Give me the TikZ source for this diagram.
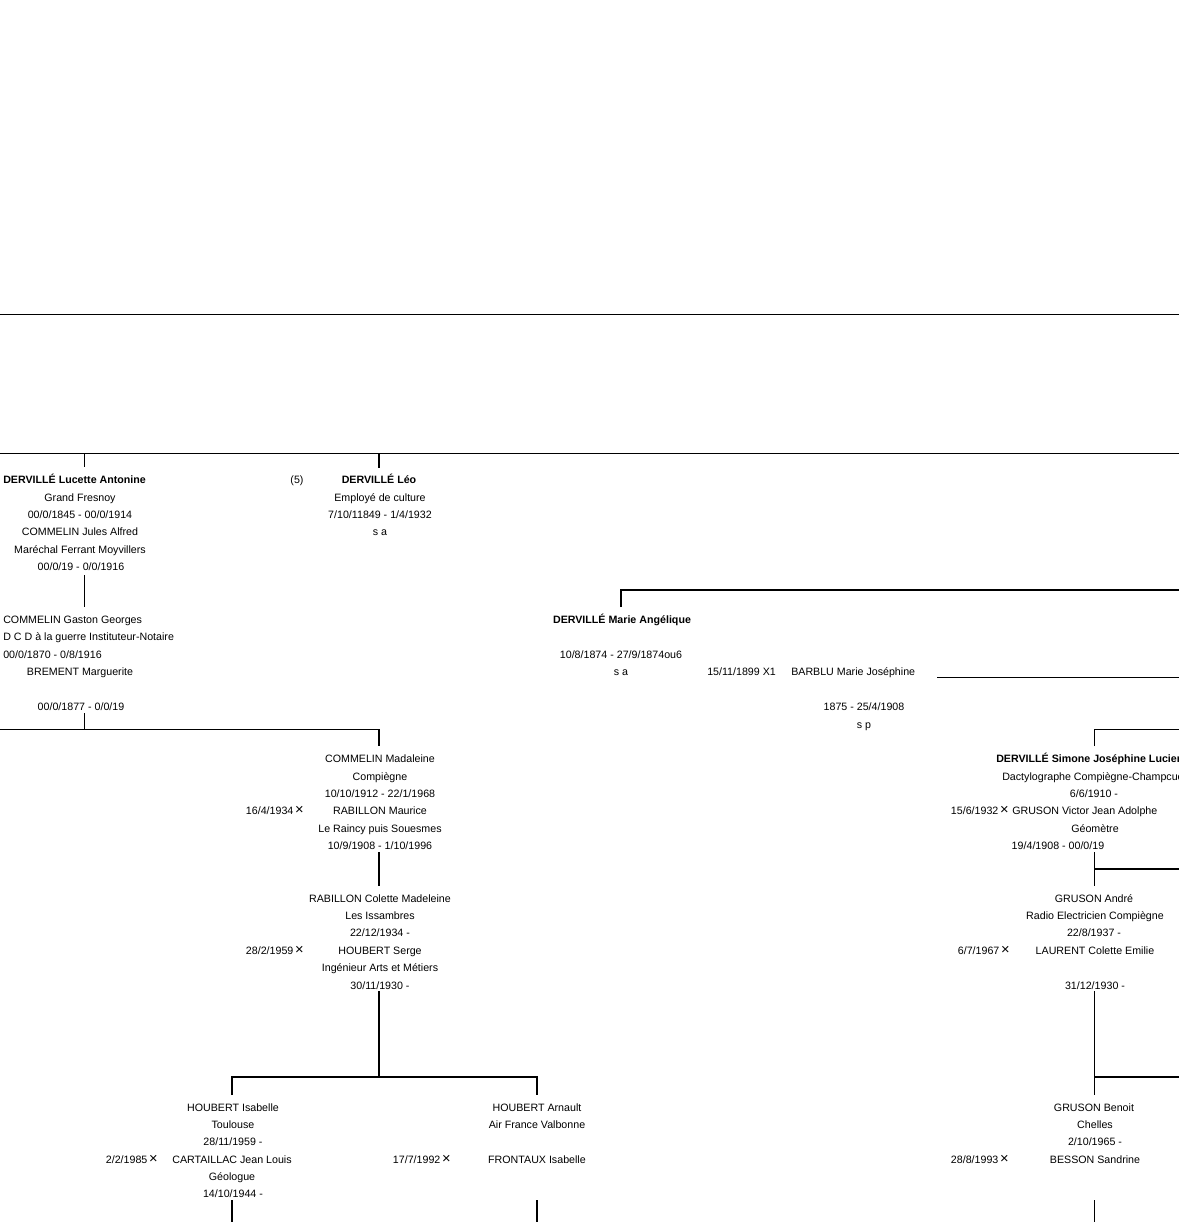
\documentclass[tikz,border=0pt]{standalone}
\usepackage{fontspec}
\setmainfont{Liberation Sans}
\usetikzlibrary{positioning}
\newcommand{\mx}{\,{\fontsize{11}{9}\selectfont ×}}
\tikzset{
    txt/.style={font=\fontsize{8}{9}\selectfont, inner sep=0pt, anchor=base},
    nm/.style={txt, font=\fontsize{8}{9}\selectfont\bfseries},
    lft/.style={txt, anchor=base west},
    rgt/.style={txt, anchor=base east},
    link/.style={line width=0.75pt},
    blink/.style={line width=1.5pt},
}

\begin{document}
\begin{tikzpicture}[x=0.75pt, y=-0.75pt]
    \useasboundingbox (0,0) rectangle (1179,1222);
    \clip (0,0) rectangle (1179,1222);

    \coordinate (r0w) at (0,314);
    \coordinate (r0e) at (1179,314);
    \coordinate (r1w) at (0,453);
    \coordinate (r1e) at (1179,453);
    \draw[link] (r0w) -- (r0e);
    \draw[link] (r1w) -- (r1e);

    \node[nm, anchor=base west] (luc1) at (3,483) {DERVILLÉ Lucette Antonine};
    \node[txt] (luc2) at (80,501) {Grand Fresnoy};
    \node[txt] (luc3) at (80,518) {00/0/1845 - 00/0/1914};
    \node[txt] (luc4) at (80,535) {COMMELIN Jules Alfred};
    \node[txt] (luc5) at (80,553) {Maréchal Ferrant Moyvillers};
    \node[txt] (luc6) at (81,570) {00/0/19 - 0/0/1916};
    \node[txt] (num) at (297,483) {(5)};

    \node[nm] (leo1) at (379,483) {DERVILLÉ Léo};
    \node[txt] (leo2) at (380,501) {Employé de culture};
    \node[txt] (leo3) at (380,518) {7/10/11849 - 1/4/1932};
    \node[txt] (leo4) at (380,535) {s a};

    \coordinate (luct) at (84,453);
    \coordinate (lucb) at (84,467);
    \coordinate (leot) at (379,453);
    \coordinate (leob) at (379,468);
    \draw[link] (luct) -- (lucb);
    \draw[blink] (leot) -- (leob);

    \node[lft] (gas1) at (3,623) {COMMELIN Gaston Georges};
    \node[lft] (gas2) at (3,640) {D C D à la guerre Instituteur-Notaire};
    \node[lft] (gas3) at (3,658) {00/0/1870 - 0/8/1916};
    \node[txt] (gas4) at (80,675) {BREMENT Marguerite};
    \node[txt] (gas5) at (81,710) {00/0/1877 - 0/0/19};

    \coordinate (g1) at (84,575);
    \coordinate (g2) at (84,607);
    \draw[link] (g1) -- (g2);

    \node[nm] (mar1) at (622,623) {DERVILLÉ Marie Angélique};
    \node[txt] (mar2) at (621,658) {10/8/1874 - 27/9/1874ou6};
    \node[txt] (mar3) at (621,675) {s a};
    \node[lft] (mar4) at (707,675) {15/11/1899 X1};
    \node[lft] (mar5) at (791,675) {BARBLU Marie Joséphine};
    \node[txt] (mar6) at (864,710) {1875 - 25/4/1908};
    \node[txt] (mar7) at (864,728) {s p};

    \coordinate (m1) at (621,607);
    \coordinate (m2) at (621,590);
    \coordinate (m3) at (1179,590);
    \coordinate (m4) at (937,677);
    \coordinate (m5) at (1179,677);
    \draw[blink] (m1) -- (m2) -- (m3);
    \draw[link] (m4) -- (m5);

    \coordinate (c1) at (84,713);
    \coordinate (c2) at (84,729);
    \coordinate (c3) at (0,729);
    \coordinate (c4) at (379,729);
    \coordinate (c5) at (379,746);
    \draw[link] (c1) -- (c2);
    \draw[link] (c3) -- (c4);
    \draw[blink] (c4) -- (c5);

    \node[txt] (mad1) at (380,762) {COMMELIN Madaleine};
    \node[txt] (mad2) at (380,780) {Compiègne};
    \node[txt] (mad3) at (380,797) {10/10/1912 - 22/1/1968};
    \node[txt] (mad4) at (380,814) {RABILLON Maurice};
    \node[rgt] (madx) at (304,814) {16/4/1934\mx};
    \node[txt] (mad5) at (380,832) {Le Raincy puis Souesmes};
    \node[txt] (mad6) at (380,849) {10/9/1908 - 1/10/1996};

    \coordinate (d1) at (379,852);
    \coordinate (d2) at (379,886);
    \draw[blink] (d1) -- (d2);

    \node[txt] (col1) at (380,902) {RABILLON Colette Madeleine};
    \node[txt] (col2) at (380,919) {Les Issambres};
    \node[txt] (col3) at (380,936) {22/12/1934 -};
    \node[txt] (col4) at (380,954) {HOUBERT Serge};
    \node[rgt] (colx) at (304,954) {28/2/1959\mx};
    \node[txt] (col5) at (380,971) {Ingénieur Arts et Métiers};
    \node[txt] (col6) at (380,989) {30/11/1930 -};

    \coordinate (h1) at (379,991);
    \coordinate (h2) at (379,1077);
    \coordinate (h3) at (232,1077);
    \coordinate (h4) at (537,1077);
    \coordinate (h5) at (232,1095);
    \coordinate (h6) at (537,1095);
    \draw[blink] (h1) -- (h2);
    \draw[blink] (h5) -- (h3) -- (h4) -- (h6);

    \node[txt] (isa1) at (233,1111) {HOUBERT Isabelle};
    \node[txt] (isa2) at (233,1128) {Toulouse};
    \node[txt] (isa3) at (233,1145) {28/11/1959 -};
    \node[txt] (isa4) at (232,1163) {CARTAILLAC Jean Louis};
    \node[rgt] (isax) at (158,1163) {2/2/1985\mx};
    \node[txt] (isa5) at (232,1180) {Géologue};
    \node[txt] (isa6) at (233,1197) {14/10/1944 -};

    \node[txt] (arn1) at (537,1111) {HOUBERT Arnault};
    \node[txt] (arn2) at (537,1128) {Air France Valbonne};
    \node[txt] (arn3) at (537,1163) {FRONTAUX Isabelle};
    \node[rgt] (arnx) at (451,1163) {17/7/1992\mx};

    \coordinate (i1) at (232,1200);
    \coordinate (i2) at (232,1222);
    \coordinate (a1) at (537,1200);
    \coordinate (a2) at (537,1222);
    \draw[blink] (i1) -- (i2);
    \draw[blink] (a1) -- (a2);

    \coordinate (s1) at (1094,746);
    \coordinate (s2) at (1094,729);
    \coordinate (s3) at (1179,729);
    \draw[link] (s1) -- (s2) -- (s3);

    \node[nm, anchor=base west] (sim1) at (996,762) {DERVILLÉ Simone Joséphine Lucienne};
    \node[lft] (sim2) at (1002,780) {Dactylographe Compiègne-Champcueil};
    \node[txt] (sim3) at (1094,797) {6/6/1910 -};
    \node[rgt] (simx) at (1009,814) {15/6/1932\mx};
    \node[lft] (sim4) at (1012,814) {GRUSON Victor Jean Adolphe};
    \node[txt] (sim5) at (1095,832) {Géomètre};
    \node[txt] (sim6) at (1058,849) {19/4/1908 - 00/0/19};

    \coordinate (v1) at (1094,852);
    \coordinate (v2) at (1094,886);
    \coordinate (v3) at (1094,869);
    \coordinate (v4) at (1179,869);
    \draw[link] (v1) -- (v2);
    \draw[blink] (v3) -- (v4);

    \node[txt] (and1) at (1094,902) {GRUSON André};
    \node[txt] (and2) at (1095,919) {Radio Electricien Compiègne};
    \node[txt] (and3) at (1094,936) {22/8/1937 -};
    \node[txt] (and4) at (1095,954) {LAURENT Colette Emilie};
    \node[rgt] (andx) at (1010,954) {6/7/1967\mx};
    \node[txt] (and5) at (1095,989) {31/12/1930 -};

    \coordinate (b1) at (1094,991);
    \coordinate (b2) at (1094,1095);
    \coordinate (b3) at (1094,1077);
    \coordinate (b4) at (1179,1077);
    \draw[link] (b1) -- (b2);
    \draw[blink] (b3) -- (b4);

    \node[txt] (ben1) at (1094,1111) {GRUSON Benoit};
    \node[txt] (ben2) at (1095,1128) {Chelles};
    \node[txt] (ben3) at (1095,1145) {2/10/1965 -};
    \node[txt] (ben4) at (1095,1163) {BESSON Sandrine};
    \node[rgt] (benx) at (1009,1163) {28/8/1993\mx};

    \coordinate (e1) at (1094,1200);
    \coordinate (e2) at (1094,1222);
    \draw[link] (e1) -- (e2);
\end{tikzpicture}
\end{document}
